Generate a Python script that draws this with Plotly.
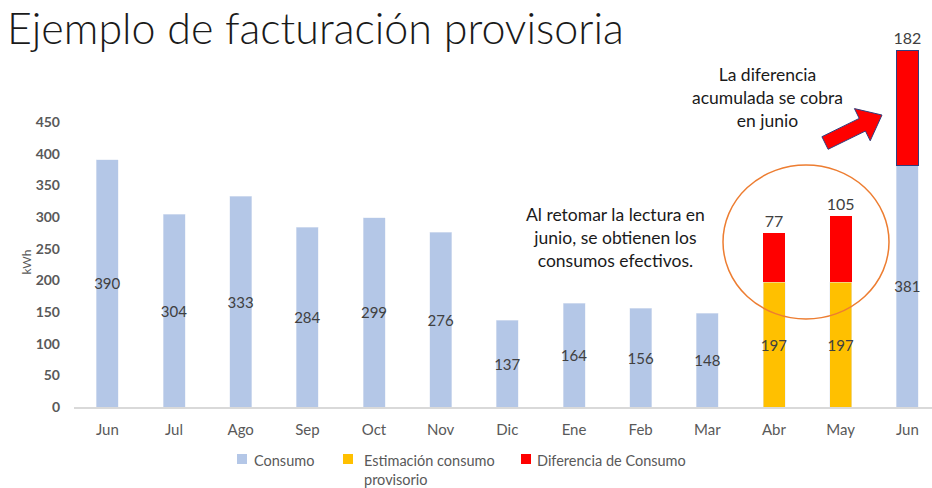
import plotly.graph_objects as go

# ── datos ─────────────────────────────────────────────────────────────
MESES = ["Jun", "Jul", "Ago", "Sep", "Oct", "Nov", "Dic",
         "Ene", "Feb", "Mar", "Abr", "May", "Jun"]
CONSUMO = [390, 304, 333, 284, 299, 276, 137, 164, 156, 148, None, None, 381]
ESTIMACION = [None] * 10 + [197, 197, None]
DIFERENCIA = [None] * 10 + [77, 105, 182]
SERIES = ["Consumo", "Estimación consumo<br>provisorio", "Diferencia de Consumo"]

AZUL = "#B4C7E7"
AMARILLO = "#FFC000"
ROJO = "#FF0000"
TXT = "#404040"
GRIS = "#595959"
FONT = "Lato, 'Noto Sans', sans-serif"

W, H = 932, 488
L, R, T, B = 74, 0, 0, 81


def px2paper(x, y):
    """pixel de la imagen -> coordenadas paper"""
    return (x - L) / (W - L - R), (H - B - y) / (H - T - B)


def path(points):
    pts = [px2paper(x, y) for x, y in points]
    return "M " + " L ".join(f"{a:.4f},{b:.4f}" for a, b in pts) + " Z"


def etiquetas(vals):
    return [str(v) if v else "" for v in vals]


idx = list(range(len(MESES)))

fig = go.Figure()
fig.add_trace(go.Bar(
    x=idx, y=CONSUMO, name=SERIES[0], marker_color=AZUL,
    text=etiquetas(CONSUMO),
    textposition="inside", insidetextanchor="middle", textangle=0,
    constraintext="none", textfont=dict(size=15, color=TXT),
))
fig.add_trace(go.Bar(
    x=idx, y=ESTIMACION, name=SERIES[1], marker_color=AMARILLO,
    text=etiquetas(ESTIMACION),
    textposition="inside", insidetextanchor="middle", textangle=0,
    constraintext="none", textfont=dict(size=15, color=TXT),
))
fig.add_trace(go.Bar(
    x=idx, y=DIFERENCIA, name=SERIES[2], marker_color=ROJO,
    marker_line_color=["rgba(0,0,0,0)"] * 12 + ["#2F3F7F"],
    marker_line_width=[0] * 12 + [1.5],
    text=etiquetas(DIFERENCIA),
    textposition="outside", textangle=0, cliponaxis=False,
    constraintext="none", textfont=dict(size=16, color=TXT),
))

fig.update_layout(
    width=W, height=H, autosize=False,
    margin=dict(l=L, r=R, t=T, b=B),
    barmode="stack", bargap=0.67,
    plot_bgcolor="white", paper_bgcolor="white",
    font=dict(family=FONT, size=13, color=GRIS),
    showlegend=False,
    xaxis=dict(range=[-0.5, 12.37], tickvals=idx, ticktext=MESES,
               showline=True, linecolor="#D9D9D9", linewidth=1.5,
               showgrid=False, ticks="", ticklabelstandoff=8,
               tickfont=dict(size=15, color=GRIS)),
    yaxis=dict(range=[0, 642.6], tickvals=list(range(0, 451, 50)),
               showgrid=False, zeroline=False, ticks="",
               ticklabelstandoff=13,
               tickfont=dict(size=14, color=GRIS, weight="bold")),
)

# título
fig.add_annotation(text="Ejemplo de facturación provisoria",
                   xref="paper", yref="paper", x=px2paper(5, 0)[0],
                   y=px2paper(0, 0)[1], xanchor="left", yanchor="top",
                   showarrow=False,
                   font=dict(size=43, color="#1A1A1A", family=FONT,
                             weight=300))
fig.add_annotation(text="kWh", textangle=-90,
                   xref="paper", yref="paper", x=px2paper(16, 0)[0],
                   y=px2paper(0, 262)[1], showarrow=False,
                   font=dict(size=12, color=GRIS))
fig.add_annotation(text="La diferencia<br>acumulada se cobra<br>en junio",
                   xref="paper", yref="paper", x=px2paper(767, 0)[0],
                   y=px2paper(0, 97)[1], xanchor="center", yanchor="middle",
                   showarrow=False, align="center",
                   font=dict(size=17.5, color="#1A1A1A"))
fig.add_annotation(text="Al retomar la lectura en<br>junio, se obtienen los"
                        "<br>consumos efectivos.",
                   xref="paper", yref="paper", x=px2paper(615, 0)[0],
                   y=px2paper(0, 237)[1], xanchor="center", yanchor="middle",
                   showarrow=False, align="center",
                   font=dict(size=17.5, color="#1A1A1A"))

# leyenda manual (cuadro + texto), para acercar el texto al símbolo
leyenda = [(SERIES[0], AZUL, 237, 252),
           (SERIES[1], AMARILLO, 343, 362),
           (SERIES[2], ROJO, 521, 535)]
for nombre, color, sx, tx in leyenda:
    a0, b0 = px2paper(sx, 464)
    a1, b1 = px2paper(sx + 10, 454)
    fig.add_shape(type="rect", xref="paper", yref="paper",
                  x0=a0, y0=b0, x1=a1, y1=b1,
                  fillcolor=color, line_width=0)
    fig.add_annotation(text=nombre, xref="paper", yref="paper",
                       x=px2paper(tx, 0)[0], y=px2paper(0, 450)[1],
                       xanchor="left", yanchor="top", align="left",
                       showarrow=False,
                       font=dict(size=14.5, color=GRIS))

# círculo naranja
x0, y0 = px2paper(723, 319)
x1, y1 = px2paper(889, 165)
fig.add_shape(type="circle", xref="paper", yref="paper",
              x0=x0, y0=y0, x1=x1, y1=y1,
              line=dict(color="#ED7D31", width=1.5))

# flecha roja
fig.add_shape(type="path", xref="paper", yref="paper",
              path=path([(828.1, 149.3), (865.4, 131.0), (870.2, 140.8),
                         (882, 115), (854.4, 108.6), (859.2, 118.4),
                         (821.9, 136.7)]),
              fillcolor=ROJO, line=dict(color="#2F3F7F", width=1))

fig.write_html("out.html", config={"displayModeBar": False},
               post_script="document.body.style.margin='0';")
